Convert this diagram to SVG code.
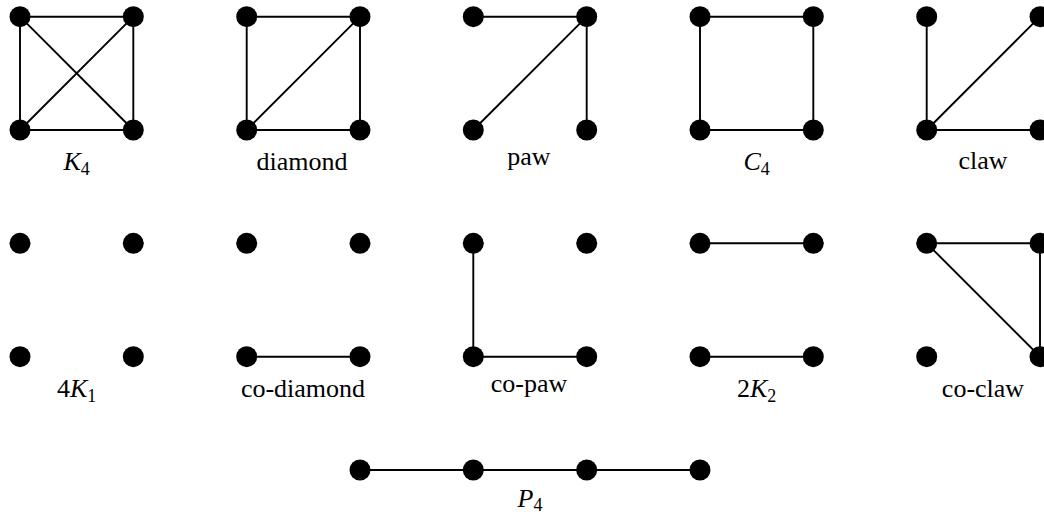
<svg xmlns="http://www.w3.org/2000/svg" width="1044" height="516" viewBox="0 0 1044 516">
<style>
.e{stroke:#000;stroke-width:1.9;fill:none}
.v{fill:#000}
.t{font-family:"Liberation Serif","Times New Roman",serif;font-size:26px;fill:#000;text-anchor:middle}
.i{font-style:italic}
.s{font-size:18px}
</style>
<rect width="1044" height="516" fill="#fff"/>
<defs>
<circle id="n" r="10.5" class="v"/>
</defs>
<g id="connectors">
<path class="e" d="M20,16.7H133.3V130H20Z M20,16.7L133.3,130 M133.3,16.7L20,130"/>
<path class="e" d="M246.7,16.7H360V130H246.7Z M246.7,130L360,16.7"/>
<path class="e" d="M473.3,16.7H586.7V130 M473.3,130L586.7,16.7"/>
<path class="e" d="M700,16.7H813.3V130H700Z"/>
<path class="e" d="M926.7,16.7V130H1040 M926.7,130L1040,16.7"/>
<path class="e" d="M246.7,356.7H360"/>
<path class="e" d="M473.3,243.3V356.7H586.7"/>
<path class="e" d="M700,243.3H813.3 M700,356.7H813.3"/>
<path class="e" d="M926.7,243.3H1040V356.7 M926.7,243.3L1040,356.7"/>
<path class="e" d="M360,470H700"/>
</g>
<g id="K4">
<use href="#n" x="20" y="16.7"/><use href="#n" x="133.3" y="16.7"/><use href="#n" x="20" y="130"/><use href="#n" x="133.3" y="130"/>
<text class="t" x="76.7" y="170"><tspan class="i">K</tspan><tspan class="s" dy="5">4</tspan></text>
</g>
<g id="diamond">
<use href="#n" x="246.7" y="16.7"/><use href="#n" x="360" y="16.7"/><use href="#n" x="246.7" y="130"/><use href="#n" x="360" y="130"/>
<text class="t" x="302" y="170">diamond</text>
</g>
<g id="paw">
<use href="#n" x="473.3" y="16.7"/><use href="#n" x="586.7" y="16.7"/><use href="#n" x="473.3" y="130"/><use href="#n" x="586.7" y="130"/>
<text class="t" x="529" y="165">paw</text>
</g>
<g id="C4">
<use href="#n" x="700" y="16.7"/><use href="#n" x="813.3" y="16.7"/><use href="#n" x="700" y="130"/><use href="#n" x="813.3" y="130"/>
<text class="t" x="756.7" y="170"><tspan class="i">C</tspan><tspan class="s" dy="5">4</tspan></text>
</g>
<g id="claw">
<use href="#n" x="926.7" y="16.7"/><use href="#n" x="1040" y="16.7"/><use href="#n" x="926.7" y="130"/><use href="#n" x="1040" y="130"/>
<text class="t" x="983" y="169">claw</text>
</g>
<g id="4K1">
<use href="#n" x="20" y="243.3"/><use href="#n" x="133.3" y="243.3"/><use href="#n" x="20" y="356.7"/><use href="#n" x="133.3" y="356.7"/>
<text class="t" x="76.7" y="397">4<tspan class="i">K</tspan><tspan class="s" dy="5">1</tspan></text>
</g>
<g id="co-diamond">
<use href="#n" x="246.7" y="243.3"/><use href="#n" x="360" y="243.3"/><use href="#n" x="246.7" y="356.7"/><use href="#n" x="360" y="356.7"/>
<text class="t" x="303" y="397">co-diamond</text>
</g>
<g id="co-paw">
<use href="#n" x="473.3" y="243.3"/><use href="#n" x="586.7" y="243.3"/><use href="#n" x="473.3" y="356.7"/><use href="#n" x="586.7" y="356.7"/>
<text class="t" x="529" y="392">co-paw</text>
</g>
<g id="2K2">
<use href="#n" x="700" y="243.3"/><use href="#n" x="813.3" y="243.3"/><use href="#n" x="700" y="356.7"/><use href="#n" x="813.3" y="356.7"/>
<text class="t" x="756.7" y="397">2<tspan class="i">K</tspan><tspan class="s" dy="5">2</tspan></text>
</g>
<g id="co-claw">
<use href="#n" x="926.7" y="243.3"/><use href="#n" x="1040" y="243.3"/><use href="#n" x="926.7" y="356.7"/><use href="#n" x="1040" y="356.7"/>
<text class="t" x="983" y="397">co-claw</text>
</g>
<g id="P4">
<use href="#n" x="360" y="470"/><use href="#n" x="473.3" y="470"/><use href="#n" x="586.7" y="470"/><use href="#n" x="700" y="470"/>
<text class="t" x="530" y="507"><tspan class="i">P</tspan><tspan class="s" dy="4">4</tspan></text>
</g>
</svg>
